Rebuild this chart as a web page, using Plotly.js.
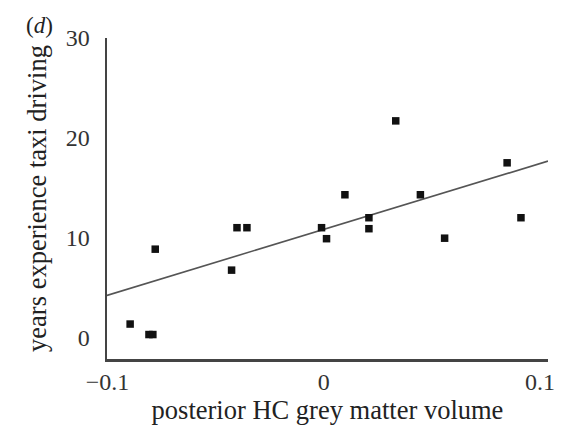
<!DOCTYPE html>
<html>
<head>
<meta charset="utf-8">
<script src="https://cdn.plot.ly/plotly-3.0.1.min.js"></script>
<style>html,body{margin:0;padding:0;background:#fff;}#chart{width:562px;height:428px;}</style>
</head>
<body>
<div id="chart"></div>
<script>
// posterior HC grey matter volume (x) vs years experience taxi driving (y)
var volume = [-0.0895, -0.0808, -0.0790, -0.0779, -0.0426, -0.0401, -0.0355, -0.0010, 0.0013, 0.0209, 0.0209, 0.0098, 0.0333, 0.0447, 0.0559, 0.0848, 0.0912];
var years  = [1.35, 0.3, 0.3, 8.85, 6.75, 11.0, 11.0, 11.0, 9.9, 12.0, 10.9, 14.3, 21.7, 14.3, 9.95, 17.5, 12.0];
// regression line end points
var fitX = [-0.1002, 0.1037];
var fitY = [4.22, 17.67];
var yTicks = [0, 10, 20, 30];
var xTicks = [-0.1, 0, 0.1];
var xTickText = ["\u22120.1", "0", "0.1"];

var serif = "Liberation Serif, Times New Roman, serif";

var traces = [
  {x: fitX, y: fitY, mode: "lines", type: "scatter",
   line: {color: "#555", width: 1.6}, hoverinfo: "skip"},
  {x: volume, y: years, mode: "markers", type: "scatter",
   marker: {symbol: "square", size: 7.5, color: "#111"}}
];

var layout = {
  width: 562, height: 428,
  margin: {l: 107, r: 14, t: 38, b: 69},
  paper_bgcolor: "#fff", plot_bgcolor: "#fff",
  showlegend: false,
  font: {family: serif, size: 24, color: "#333"},
  xaxis: {
    range: [-0.1002, 0.1037], tickvals: xTicks, ticktext: xTickText,
    showgrid: false, zeroline: false, showline: true, linecolor: "#444", linewidth: 2.5,
    ticks: "", ticklen: 0, tickfont: {family: serif, size: 24, color: "#333"},
    title: {text: "posterior HC grey matter volume", font: {family: serif, size: 26.5, color: "#222"}, standoff: 5},
    automargin: false
  },
  yaxis: {
    range: [-2.15, 30], tickvals: yTicks,
    showgrid: false, zeroline: false, showline: true, linecolor: "#444", linewidth: 2.5,
    ticks: "", ticklen: 0, ticklabelstandoff: 10, tickfont: {family: serif, size: 24, color: "#333"},
    title: {text: "years experience taxi driving", font: {family: serif, size: 26.5, color: "#222"}, standoff: 12},
    automargin: false
  },
  annotations: [
    {text: "(<i>d</i>)", xref: "paper", yref: "paper", x: -0.153, y: 1.04,
     xanchor: "center", yanchor: "middle", showarrow: false,
     font: {family: serif, size: 23, color: "#222"}}
  ]
};

Plotly.newPlot("chart", traces, layout, {staticPlot: true, displayModeBar: false});
</script>
</body>
</html>
